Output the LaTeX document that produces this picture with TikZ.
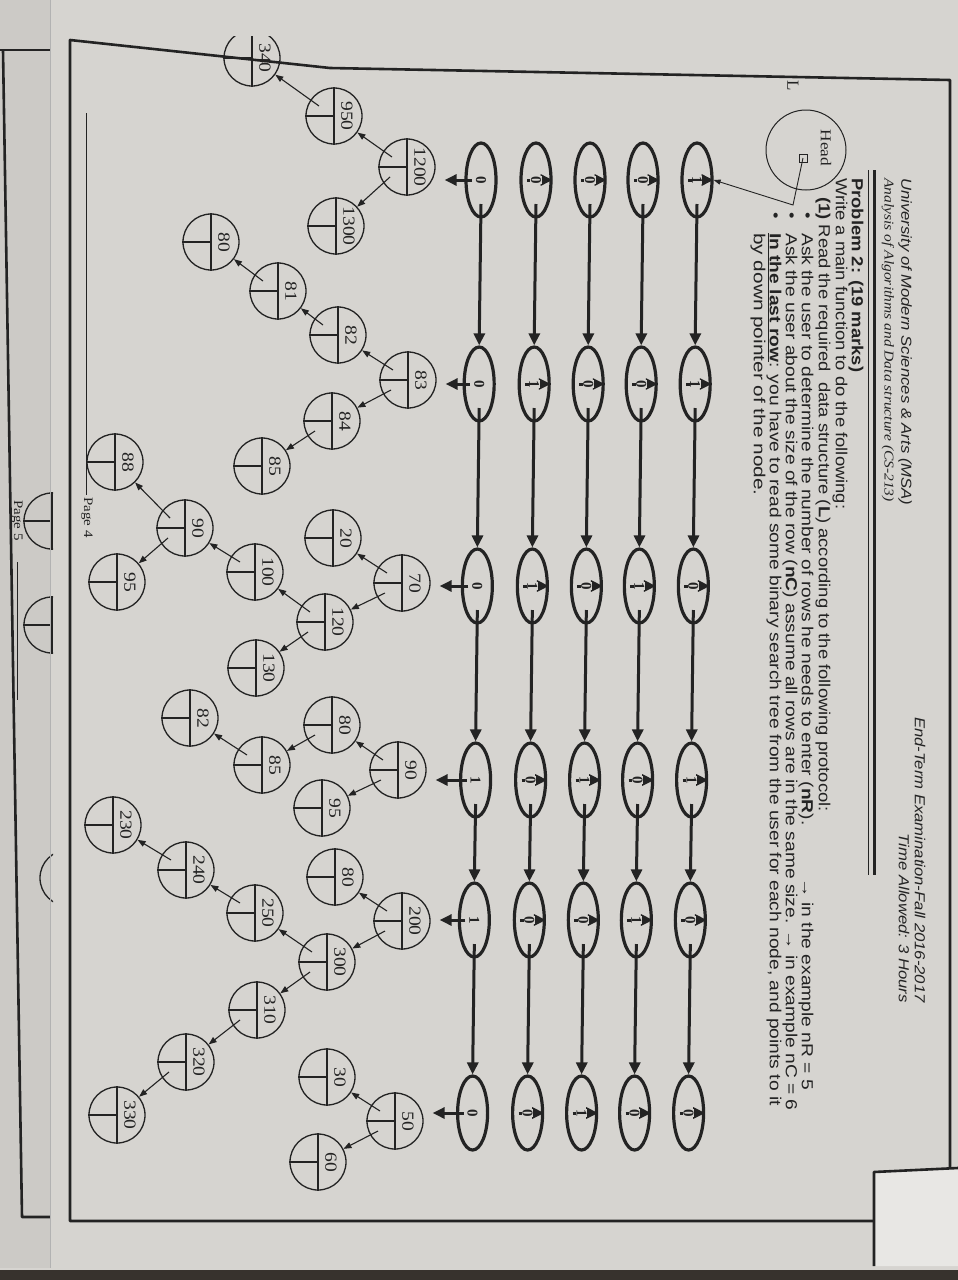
\documentclass[tikz,border=0pt]{standalone}
\usepackage{fontspec}
\usepackage{graphicx}
\setmainfont{Liberation Sans}
\newfontfamily\serifnum{Liberation Serif}
\usetikzlibrary{shapes.geometric,arrows.meta,calc}
\definecolor{paper}{RGB}{214,212,208}
\definecolor{paperb}{RGB}{204,202,198}
\definecolor{paperw}{RGB}{232,231,228}
\definecolor{ink}{RGB}{35,35,35}
\definecolor{table}{RGB}{55,50,45}
\newcommand\sx[1]{\scalebox{1.15}[1]{#1}}
\newcommand\wx[1]{\scalebox{1.2}[1]{#1}}
\newcommand\bst[3]{%
  \node[tnode] (#1) at (#2) {};
  \draw[tline] (#1.north) -- (#1.south);
  \draw[tline] (#1.west) -- (#1.center);
  \node[tlab] at ($(#1)+(13,0)$) {\sx{#3}};
  \coordinate (#1-l) at ($(#1)+(-15,-10)$);
  \coordinate (#1-r) at ($(#1)+(-17,10)$);
}
\tikzset{
  ell/.style={ellipse, draw=ink, line width=3.2pt, minimum width=30pt, minimum height=74pt, inner sep=0pt},
  elab/.style={rotate=-90, inner sep=0.5pt, text=ink, font=\serifnum\bfseries\fontsize{15}{15}\selectfont},
  big/.style={draw=ink, line width=3pt, -{Triangle[length=12pt,width=11pt]}},
  tnode/.style={circle, draw=ink, line width=1.3pt, minimum size=56pt, inner sep=0pt},
  tline/.style={draw=ink, line width=1.3pt},
  tlab/.style={rotate=-90, inner sep=0pt, text=ink, font=\serifnum\fontsize{17}{17}\selectfont},
  tedge/.style={draw=ink, line width=1.1pt, -{Triangle[length=8pt,width=6pt]}},
  thinarr/.style={draw=ink, line width=0.9pt, -{Triangle[length=7pt,width=5pt]}},
  txt/.style={rotate=-90, anchor=west, inner sep=0pt, text=ink, font=\fontsize{16}{16}\selectfont},
  hdr/.style={rotate=-90, inner sep=0pt, text=ink, font=\itshape\fontsize{14.5}{14.5}\selectfont},
  frame/.style={draw=ink, line width=2.6pt, line join=round}
}
\begin{document}
\begin{tikzpicture}[x=1pt,y=-1pt]
\useasboundingbox (0,0) rectangle (958,1280);
\fill[paper] (0,0) rectangle (958,1280);
% sheet underneath on the left
\fill[paperb] (0,0) rectangle (50,1268);
\draw[frame] (0,50) -- (50,50);
\draw[frame] (3,50) -- (22,1217) -- (50,1217);
\node[hdr, font=\serifnum\fontsize{13}{13}\selectfont, anchor=west] (p5) at (17,500) {\sx{Page 5}};
\draw[ink, line width=0.6pt] (17,562) -- (17,700);
\begin{scope}
  \clip (0,0) rectangle (53,1280);
  \node[tnode] (b1) at (52,521) {};
  \draw[tline] (b1.north) -- (b1.south);
  \draw[tline] (b1.west) -- (b1.center);
  \node[tnode] (b2) at (52,625) {};
  \draw[tline] (b2.north) -- (b2.south);
  \draw[tline] (b2.west) -- (b2.center);
  \node[tnode] (b3) at (68,878) {};
\end{scope}
\draw[black!30, line width=0.8pt] (50,0) -- (50,1268);
% table at the bottom
\fill[table] (0,1270) rectangle (958,1280);
% front page frame
\draw[frame] (70,1221) -- (70,40) -- (330,68) -- (950,80) -- (950,1221) -- cycle;
% corner of another sheet at the bottom right
\fill[paperw] (874,1172) -- (958,1168) -- (958,1266) -- (874,1266) -- cycle;
\draw[frame] (958,1168) -- (874,1172) -- (874,1266);
% footer
\draw[ink, line width=0.6pt] (86,113) -- (86,495);
\node[hdr, font=\serifnum\fontsize{13}{13}\selectfont, anchor=west] (p4) at (87,497) {\sx{Page 4}};

% header
\node[hdr, anchor=west] (uni) at (905,178) {\sx{University of Modern Sciences \& Arts (MSA)}};
\node[hdr, anchor=west, font=\serifnum\itshape\fontsize{13.5}{13.5}\selectfont] (course) at (888,178) {\sx{Analysis of Algorithms and Data structure (CS-213)}};
\node[hdr, anchor=east] (exam) at (920,1003) {\sx{End-Term Examination-Fall 2016-2017}};
\node[hdr, anchor=east] (time) at (904,1003) {\sx{Time Allowed: 3 Hours}};
\draw[ink, line width=3pt] (874,170) -- (874,875);
\draw[ink, line width=0.8pt] (868,170) -- (868,875);

% problem text
\node[txt, font=\bfseries\fontsize{16}{16}\selectfont] (prob) at (856,178) {\sx{Problem 2: (19 marks)}};
\node[txt] (write) at (840,178) {\sx{Write a main function to do the following:}};
\node[txt] (read) at (823,197) {\sx{\textbf{(1)} Read the required\ \ data structure (\textbf{L}) according to the following protocol:}};
\node[txt] (d1) at (806,212) {\sx{\textbullet}};
\node[txt] (d2) at (790,212) {\sx{\textbullet}};
\node[txt] (d3) at (774,212) {\sx{\textbullet}};
\node[txt] (b1t) at (806,233) {\wx{\makebox[714pt][l]{Ask the user to determine the number of rows he needs to enter (\textbf{nR}).\hfill → in the example nR = 5}}};
\node[txt] (b2t) at (790,233) {\wx{Ask the user about the size of the row (\textbf{nC}) assume all rows are in the same size. → in example nC = 6}};
\node[txt] (b3t) at (774,233) {\wx{\textbf{\underline{In the last row}}: you have to read some binary search tree from the user for each node, and points to it}};
\node[txt] (b4t) at (758,233) {\scalebox{1.3}[1]{by down pointer of the node.}};

% Head
\draw[ink, line width=1pt] (806,150) circle (40);
\node[rotate=-90, inner sep=0pt, text=ink, font=\serifnum\fontsize{15}{15}\selectfont] (head) at (826,148) {\sx{Head}};
\node[draw=ink, minimum size=8pt, inner sep=0pt, line width=0.8pt] (hbox) at (803,158) {};
\node[rotate=-90, inner sep=0pt, text=ink, font=\serifnum\fontsize{17}{17}\selectfont] (Lname) at (793,86) {L};
\coordinate (hbend) at (793,205);

% linked grid of ellipses
\foreach \c/\yy in {1/180,2/384,3/586,4/780,5/920,6/1113} {
  \foreach \r/\xx in {1/697,2/643,3/590,4/536,5/481} {
    \pgfmathsetmacro\xe{\xx-0.009*(\yy-180)}
    \node[ell] (e-\r-\c) at (\xe,\yy) {};
  }
}
\foreach \c in {1,...,6}
  \foreach \r [evaluate=\r as \rn using int(\r+1)] in {1,...,4}
    \draw[big] ($(e-\r-\c.center)+(-9,0)$) -- (e-\rn-\c.east);
\foreach \c [evaluate=\c as \cn using int(\c+1)] in {1,...,5}
  \foreach \r in {1,...,5}
    \draw[big] ($(e-\r-\c.center)+(0,24)$) -- (e-\r-\cn.north);
\foreach \r/\c/\v in {1/1/1,2/1/0,3/1/0,4/1/0,5/1/0,
  1/2/1,2/2/0,3/2/0,4/2/1,5/2/0,
  1/3/0,2/3/1,3/3/0,4/3/1,5/3/0,
  1/4/1,2/4/0,3/4/1,4/4/0,5/4/1,
  1/5/0,2/5/1,3/5/0,4/5/0,5/5/1,
  1/6/0,2/6/0,3/6/1,4/6/0,5/6/0}
  \node[elab, fill=paper] at (e-\r-\c) {\v};
\draw[thinarr] (hbox.center) -- (hbend) -- (e-1-1.east);

% trees
\bst{n1200}{407,167}{1200}
\bst{n950}{334,116}{950}
\bst{n1300}{336,226}{1300}
\begin{scope}
  \clip (200,36) rectangle (320,100);
  \bst{n340}{252,58}{340}
\end{scope}
\bst{n83}{408,380}{83}
\bst{n82}{338,335}{82}
\bst{n84}{332,421}{84}
\bst{n81}{278,291}{81}
\bst{n80a}{211,242}{80}
\bst{n85a}{262,466}{85}
\bst{n70}{402,583}{70}
\bst{n20}{333,538}{20}
\bst{n120}{325,622}{120}
\bst{n100}{255,572}{100}
\bst{n130}{256,668}{130}
\bst{n90a}{185,528}{90}
\bst{n88}{115,462}{88}
\bst{n95a}{117,582}{95}
\bst{n90b}{398,770}{90}
\bst{n80b}{332,725}{80}
\bst{n95b}{322,808}{95}
\bst{n85b}{262,765}{85}
\bst{n82b}{190,718}{82}
\bst{n200}{402,921}{200}
\bst{n80c}{335,877}{80}
\bst{n300}{327,962}{300}
\bst{n250}{255,913}{250}
\bst{n310}{257,1010}{310}
\bst{n240}{186,870}{240}
\bst{n230}{113,825}{230}
\bst{n320}{186,1062}{320}
\bst{n330}{117,1115}{330}
\bst{n50}{395,1121}{50}
\bst{n30}{327,1077}{30}
\bst{n60}{318,1162}{60}

\foreach \a/\b in {n1200-l/n950,n1200-r/n1300,n950-l/n340,
  n83-l/n82,n83-r/n84,n82-l/n81,n81-l/n80a,n84-r/n85a,
  n70-l/n20,n70-r/n120,n120-l/n100,n120-r/n130,n100-l/n90a,n90a-l/n88,n90a-r/n95a,
  n90b-l/n80b,n90b-r/n95b,n80b-r/n85b,n85b-l/n82b,
  n200-l/n80c,n200-r/n300,n300-l/n250,n300-r/n310,n250-l/n240,n240-l/n230,n310-r/n320,n320-r/n330,
  n50-l/n30,n50-r/n60}
  \draw[tedge] (\a) -- (\b);

% arrows from the last row to the tree roots
\foreach \c/\R in {1/n1200,2/n83,3/n70,4/n90b,5/n200,6/n50} {
  \coordinate (rt-\c) at ($(\R.east)+(9,0)$);
  \draw[big] ($(e-5-\c.center)+(-9,0)$) -- (rt-\c |- e-5-\c);
}
\end{tikzpicture}
\end{document}
